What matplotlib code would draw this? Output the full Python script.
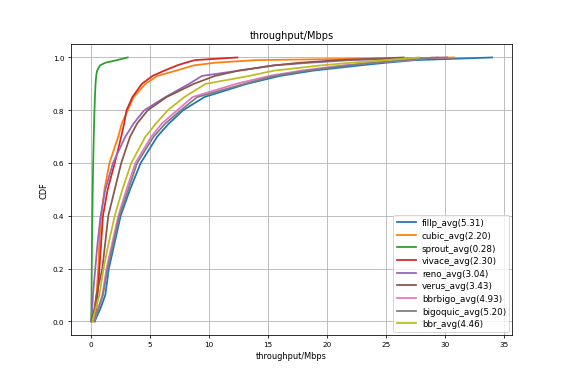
import matplotlib
matplotlib.use('Agg')
import matplotlib.pyplot as plt

# cdf levels shared by every series
cdf_levels = [0, 0.05, 0.1, 0.2, 0.3, 0.4, 0.5, 0.6, 0.7, 0.75, 0.8, 0.85,
              0.9, 0.93, 0.95, 0.97, 0.98, 0.99, 1.0]

# throughput (Mbps) at each cdf level
fillp = [0.3, 0.8, 1.2, 1.5, 2.0, 2.5, 3.3, 4.2, 5.6, 6.6, 7.8, 9.6, 13.2, 16.0, 18.8, 22.8, 25.0, 27.5, 34.0]
cubic = [0.1, 0.3, 0.45, 0.6, 0.7, 0.85, 1.13, 1.55, 2.3, 2.6, 3.1, 3.6, 4.6, 5.6, 7.2, 8.7, 10.5, 14.0, 30.8]
sprout = [0.0, 0.02, 0.03, 0.05, 0.07, 0.1, 0.13, 0.17, 0.22, 0.25, 0.28, 0.32, 0.37, 0.43, 0.5, 0.75, 1.2, 2.2, 3.1]
vivace = [0.3, 0.45, 0.55, 0.7, 0.85, 1.0, 1.4, 2.0, 2.55, 2.8, 3.0, 3.5, 4.3, 5.2, 6.2, 7.3, 8.0, 8.8, 12.4]
reno = [0.0, 0.1, 0.15, 0.35, 0.55, 0.8, 1.2, 1.85, 2.9, 3.6, 4.5, 6.3, 8.3, 9.4, 12.5, 15.5, 18.5, 22.0, 30.2]
verus = [0.0, 0.3, 0.45, 0.95, 1.2, 1.45, 2.0, 2.55, 3.3, 3.9, 4.8, 6.4, 8.7, 10.5, 12.5, 15.5, 17.7, 21.0, 26.5]
bbrbigo = [0.25, 0.6, 0.95, 1.3, 1.8, 2.3, 3.0, 3.75, 5.1, 6.0, 7.3, 8.6, 12.3, 15.1, 17.8, 21.3, 23.8, 27.0, 29.0]
bigoquic = [0.2, 0.65, 1.0, 1.4, 1.9, 2.4, 3.15, 3.9, 5.3, 6.3, 7.6, 9.0, 13.0, 15.5, 18.3, 21.8, 24.0, 26.5, 29.4]
bbr = [0.1, 0.4, 0.7, 1.05, 1.5, 2.0, 2.65, 3.4, 4.6, 5.5, 6.5, 7.9, 9.7, 13.4, 15.5, 19.5, 22.0, 25.0, 27.8]

names = ['fillp', 'cubic', 'sprout', 'vivace', 'reno', 'verus', 'bbrbigo', 'bigoquic', 'bbr']
avgs = [5.31, 2.20, 0.28, 2.30, 3.04, 3.43, 4.93, 5.20, 4.46]
series = [fillp, cubic, sprout, vivace, reno, verus, bbrbigo, bigoquic, bbr]

plt.rcParams['font.size'] = 7.4

fig = plt.figure(figsize=(8, 5.3))
for name, avg, xs in zip(names, avgs, series):
	plt.plot(xs, cdf_levels, linewidth=1.8, label='%s_avg(%.2f)' % (name, avg))
plt.title('throughput/Mbps', fontsize=9.9)
plt.xlabel('throughput/Mbps', fontsize=8.3)
plt.ylabel('CDF', fontsize=8.3)
plt.grid(True)
plt.legend(loc='lower right', fontsize=8.8, borderaxespad=0.3,
           handlelength=2.2, handletextpad=0.7, labelspacing=0.42)
plt.savefig('out.png', dpi=71.125)
